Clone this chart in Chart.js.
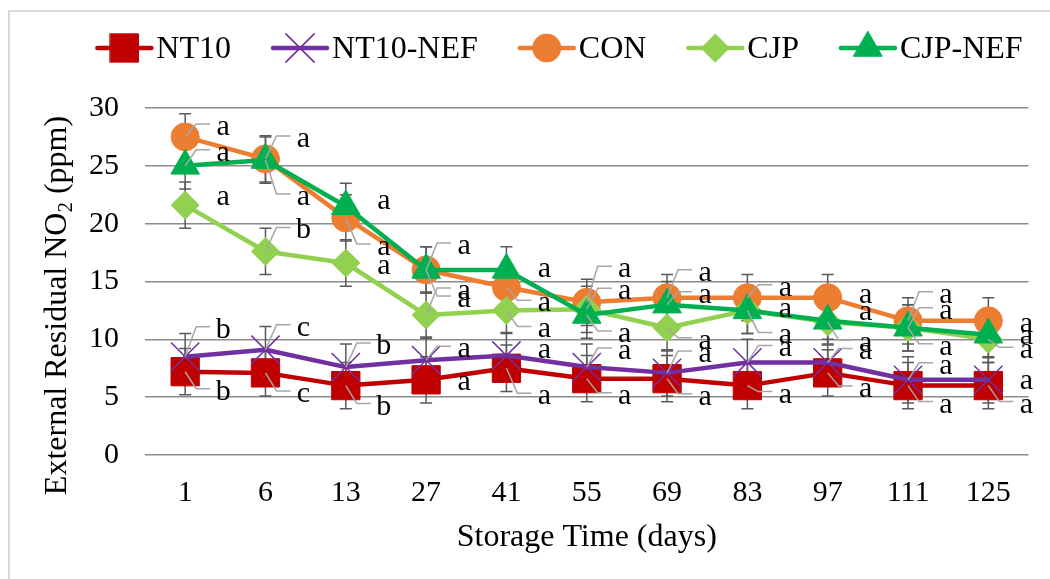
<!DOCTYPE html>
<html><head><meta charset="utf-8">
<script src="https://cdn.jsdelivr.net/npm/chart.js@4.4.1/dist/chart.umd.min.js"></script>
<style>html,body{margin:0;padding:0;background:#fff;}canvas{display:block;}</style>
</head><body>
<canvas id="c" width="1050" height="579"></canvas>
<script>
// ---- data ----
const days = ['1','6','13','27','41','55','69','83','97','111','125'];
const yTicks = [0,5,10,15,20,25,30];
const nt10    = [7.2,7.1,6.0,6.5,7.5,6.6,6.6,6.0,7.1,6.0,6.0];
const nt10Nef = [8.5,9.1,7.6,8.2,8.6,7.6,7.1,8.0,8.0,6.5,6.5];
const con     = [27.5,25.6,20.5,16.0,14.5,13.2,13.6,13.6,13.6,11.6,11.6];
const cjp     = [21.6,17.6,16.6,12.1,12.5,12.6,11.0,12.5,11.5,11.0,10.0];
const cjpNef  = [25.0,25.5,21.5,16.0,16.0,12.1,13.0,12.5,11.6,11.0,10.4];
const nt10Err    = [2,2,2,2,2,2,2,2,2,2,2];
const nt10NefErr = [2,2,2,2,2,2,2,2,2,2,2];
const conErr     = [2,2,2,2,2,2,2,2,2,2,2];
const cjpErr     = [2,2,2,2,2,2,2,2,2,2,2];
const cjpNefErr  = [2,2,2,2,2,2,2,2,2,2,2];
const nt10Sig    = ['b','c','b','a','a','a','a','a','a','a','a'];
const nt10NefSig = ['b','c','b','a','a','a','a','a','a','a','a'];
const conSig     = ['a','a','a','a','a','a','a','a','a','a','a'];
const cjpSig     = ['a','b','a','a','a','a','a','a','a','a','a'];
const cjpNefSig  = ['a','a','a','a','a','a','a','a','a','a','a'];

// ---- label placement (style) ----
const labelDy = [
  [21,22,22,3,29,18,19,10,17,20,20],
  [-26,-21,-20,-10,-5,-15,-18,-13,-10,-13,2],
  [-9,-19,30,-23,17,-32,-24,-9,-2,-25,4],
  [-7,-20,4,-23,20,-17,14,26,22,20,12],
  [-12,38,-4,30,0,20,-9,0,-8,-16,2]
];
const FONT = '"Liberation Serif","Times New Roman",serif';

function mk(label, data, err, sig, color, style, radius, order, bw){
  return {label, data, err, sig, borderColor:color, backgroundColor:color,
    pointBackgroundColor:color, pointBorderColor:color, pointStyle:style,
    pointRadius:radius, pointHoverRadius:radius, pointBorderWidth:bw,
    borderWidth:4.5, tension:0, order, borderCapStyle:'round', borderJoinStyle:'round'};
}

const bgPlugin = {
  id:'bg',
  beforeDraw(chart){
    const ctx = chart.ctx; ctx.save();
    ctx.fillStyle='#fff'; ctx.fillRect(0,0,chart.width,chart.height);
    ctx.strokeStyle='#D9D9D9'; ctx.lineWidth=2;
    ctx.strokeRect(9,11,1200,1000);
    ctx.restore();
  }
};

const errPlugin = {
  id:'errbars',
  beforeDatasetsDraw(chart){
    const ctx = chart.ctx, ys = chart.scales.y;
    ctx.save(); ctx.strokeStyle='#595959'; ctx.lineWidth=1.5;
    chart.data.datasets.forEach((d,di)=>{
      const meta = chart.getDatasetMeta(di);
      meta.data.forEach((p,i)=>{
        const t = ys.getPixelForValue(d.data[i]+d.err[i]);
        const b = ys.getPixelForValue(d.data[i]-d.err[i]);
        ctx.beginPath();
        ctx.moveTo(p.x,t); ctx.lineTo(p.x,b);
        ctx.moveTo(p.x-6,t); ctx.lineTo(p.x+6,t);
        ctx.moveTo(p.x-6,b); ctx.lineTo(p.x+6,b);
        ctx.stroke();
      });
    });
    ctx.restore();
  }
};

const labelPlugin = {
  id:'sigLabels',
  afterDatasetsDraw(chart){
    const ctx = chart.ctx; ctx.save();
    ctx.font = '30px '+FONT; ctx.textAlign='center'; ctx.textBaseline='alphabetic';
    chart.data.datasets.forEach((d,di)=>{
      const meta = chart.getDatasetMeta(di);
      meta.data.forEach((p,i)=>{
        const dy = labelDy[di][i];
        const lx = p.x + 38, ly = p.y + dy;
        if (Math.abs(dy) >= 9){
          ctx.strokeStyle='#A6A6A6'; ctx.lineWidth=1.5;
          ctx.beginPath(); ctx.moveTo(p.x,p.y);
          ctx.lineTo(lx-27, ly-4); ctx.lineTo(lx-13, ly-4); ctx.stroke();
        }
        ctx.fillStyle='#000';
        ctx.fillText(d.sig[i], lx, ly+7);
      });
    });
    ctx.restore();
  }
};

function drawMarker(ctx, d, x, y){
  ctx.save();
  ctx.fillStyle = d.pointBackgroundColor; ctx.strokeStyle = d.pointBorderColor;
  ctx.lineWidth = d.pointBorderWidth;
  Chart.helpers.drawPoint(ctx, {pointStyle:d.pointStyle, radius:d.pointRadius, rotation:0, borderWidth:d.pointBorderWidth}, x, y);
  ctx.restore();
}

const legendPlugin = {
  id:'customLegend',
  afterDraw(chart){
    const ctx = chart.ctx; ctx.save();
    ctx.font = '32px '+FONT;
    const ds = chart.data.datasets;
    const lineLen=54, tGap=5, iGap=42;
    const widths = ds.map(d=>ctx.measureText(d.label).width);
    const total = widths.reduce((a,b)=>a+b,0) + ds.length*(lineLen+tGap) + (ds.length-1)*iGap;
    let x = 560 - total/2; const y = 48;
    ds.forEach((d,i)=>{
      ctx.strokeStyle=d.borderColor; ctx.lineWidth=d.borderWidth; ctx.lineCap='round';
      ctx.beginPath(); ctx.moveTo(x,y); ctx.lineTo(x+lineLen,y); ctx.stroke();
      drawMarker(ctx, d, x+lineLen/2, y);
      ctx.fillStyle='#000'; ctx.textBaseline='middle'; ctx.textAlign='left';
      ctx.fillText(d.label, x+lineLen+tGap, y+2);
      x += lineLen+tGap+widths[i]+iGap;
    });
    ctx.restore();
  }
};

const yTitlePlugin = {
  id:'yTitle',
  afterDraw(chart){
    const ctx = chart.ctx; ctx.save();
    const fs = 32;
    const cy = (chart.chartArea.top + chart.chartArea.bottom)/2 + 24;
    ctx.translate(66, cy); ctx.rotate(-Math.PI/2);
    const p1 = 'External Residual NO', p2 = '2', p3 = ' (ppm)';
    ctx.font = fs+'px '+FONT; const w1 = ctx.measureText(p1).width, w3 = ctx.measureText(p3).width;
    ctx.font = Math.round(fs*0.65)+'px '+FONT; const w2 = ctx.measureText(p2).width;
    let x = -(w1+w2+w3)/2;
    ctx.fillStyle='#000'; ctx.textBaseline='alphabetic'; ctx.textAlign='left';
    ctx.font = fs+'px '+FONT; ctx.fillText(p1, x, 0); x += w1;
    ctx.font = Math.round(fs*0.65)+'px '+FONT; ctx.fillText(p2, x, 6); x += w2;
    ctx.font = fs+'px '+FONT; ctx.fillText(p3, x, 0);
    ctx.restore();
  }
};

new Chart(document.getElementById('c'), {
  type:'line',
  data:{
    labels: days,
    datasets:[
      mk('NT10', nt10, nt10Err, nt10Sig, '#C00000', 'rect', 20, 5, 1),
      mk('NT10-NEF', nt10Nef, nt10NefErr, nt10NefSig, '#7030A0', 'crossRot', 20, 4, 1.5),
      mk('CON', con, conErr, conSig, '#ED7D31', 'circle', 14, 3, 1),
      mk('CJP', cjp, cjpErr, cjpSig, '#92D050', 'rectRot', 14, 2, 1),
      mk('CJP-NEF', cjpNef, cjpNefErr, cjpNefSig, '#00B050', 'triangle', 16.5, 1, 1)
    ]
  },
  options:{
    responsive:false, animation:false, devicePixelRatio:1,
    layout:{padding:{top:108,left:8,right:17,bottom:0}},
    plugins:{legend:{display:false}, tooltip:{enabled:false}},
    scales:{
      x:{
        offset:true,
        grid:{display:false, drawTicks:false, offset:true}, border:{display:false},
        ticks:{font:{family:FONT,size:30}, color:'#000', padding:20, maxRotation:0},
        title:{display:true, text:'Storage Time (days)', font:{family:FONT,size:32}, color:'#000', padding:{top:0,bottom:22}},
        afterFit(s){ s.height = 124; }
      },
      y:{
        min:0, max:30,
        afterBuildTicks(s){ s.ticks = yTicks.map(v=>({value:v})); },
        grid:{color:'#8C8C8C', lineWidth:1.5, drawTicks:false}, border:{display:false},
        ticks:{font:{family:FONT,size:30}, color:'#000', padding:26},
        afterFit(s){ s.width = 137; }
      }
    }
  },
  plugins:[bgPlugin, errPlugin, labelPlugin, legendPlugin, yTitlePlugin]
});
</script>
</body></html>
